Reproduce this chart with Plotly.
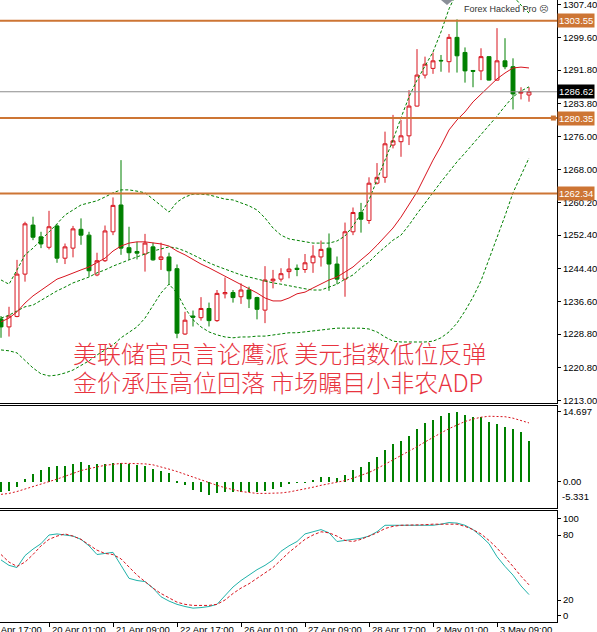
import plotly.graph_objects as go
from plotly.subplots import make_subplots

# ---------------------------------------------------------------------------
# H4 bars, oldest first
# ---------------------------------------------------------------------------
bar_no = list(range(67))

bar_open = [1232.4, 1230.5, 1233.0, 1243.1, 1254.8, 1252.0, 1249.5, 1254.6, 1246.9, 1249.3,
            1253.8, 1252.4, 1242.9, 1246.3, 1253.2, 1259.6, 1249.4, 1248.5, 1247.9, 1249.6,
            1246.6, 1247.2, 1244.4, 1228.8, 1233.1, 1232.7, 1234.9, 1232.0, 1238.4, 1238.7,
            1237.7, 1239.3, 1237.5, 1234.5, 1241.5, 1241.9, 1243.7, 1244.5, 1244.2, 1245.8,
            1247.2, 1249.3, 1245.5, 1241.9, 1253.2, 1257.8, 1255.9, 1264.8, 1266.2, 1273.9,
            1274.7, 1276.1, 1283.2, 1290.6, 1292.2, 1294.1, 1293.8, 1299.6, 1296.0, 1291.7,
            1291.6, 1295.0, 1289.4, 1294.0, 1292.6, 1286.3, 1285.85]
bar_high = [1233.1, 1235.3, 1246.5, 1255.6, 1256.8, 1253.2, 1258.2, 1255.0, 1250.4, 1254.6,
            1256.4, 1253.2, 1248.2, 1254.7, 1261.4, 1270.3, 1254.4, 1250.8, 1252.7, 1250.6,
            1250.6, 1248.2, 1245.4, 1234.1, 1234.4, 1237.6, 1236.3, 1239.3, 1242.3, 1239.3,
            1240.9, 1240.1, 1237.7, 1245.0, 1244.1, 1244.5, 1246.9, 1245.4, 1247.9, 1250.0,
            1251.1, 1252.8, 1247.3, 1255.4, 1259.0, 1260.1, 1266.2, 1269.6, 1277.1, 1281.1,
            1279.9, 1287.0, 1296.8, 1295.0, 1296.0, 1295.4, 1300.4, 1303.9, 1297.2, 1291.8,
            1297.0, 1295.1, 1301.8, 1299.4, 1294.6, 1287.7, 1287.7]
bar_low = [1227.9, 1228.2, 1232.8, 1241.3, 1251.2, 1249.3, 1249.0, 1245.8, 1245.5, 1247.1,
           1250.1, 1242.5, 1242.6, 1246.0, 1252.4, 1247.7, 1246.5, 1246.6, 1243.7, 1246.3,
           1244.1, 1240.5, 1227.8, 1228.6, 1230.6, 1232.0, 1230.6, 1231.7, 1237.3, 1236.3,
           1236.0, 1235.0, 1232.3, 1231.4, 1239.7, 1241.3, 1242.1, 1242.6, 1243.4, 1243.4,
           1244.9, 1239.1, 1240.7, 1237.7, 1252.4, 1253.0, 1255.1, 1264.5, 1264.9, 1273.1,
           1271.1, 1273.9, 1283.1, 1289.8, 1290.9, 1291.4, 1291.2, 1291.2, 1288.8, 1287.7,
           1289.4, 1289.3, 1289.3, 1292.0, 1282.4, 1284.8, 1284.25]
bar_close = [1230.5, 1233.1, 1243.1, 1255.1, 1251.9, 1250.3, 1254.4, 1246.9, 1249.6, 1253.9,
             1252.4, 1243.9, 1246.3, 1253.4, 1259.5, 1249.3, 1248.2, 1248.1, 1250.5, 1246.5,
             1247.2, 1243.9, 1229.0, 1232.1, 1232.8, 1234.9, 1232.0, 1238.5, 1238.7, 1237.5,
             1239.3, 1237.2, 1234.7, 1241.7, 1241.9, 1243.2, 1244.3, 1244.2, 1245.8, 1247.4,
             1249.0, 1245.5, 1241.9, 1253.2, 1257.8, 1256.2, 1264.8, 1266.2, 1274.2, 1274.9,
             1276.1, 1283.2, 1290.6, 1293.2, 1294.0, 1294.0, 1299.6, 1295.2, 1291.6, 1291.5,
             1295.0, 1289.4, 1294.0, 1292.6, 1286.1, 1286.5, 1286.62]

# red moving average
ma_red = [1231.7, 1232.6, 1234.1, 1236.2, 1237.9, 1239.3, 1240.7, 1241.9, 1242.6, 1243.4,
          1244.1, 1244.8, 1245.8, 1246.9, 1248.6, 1249.8, 1250.5, 1250.8, 1250.8, 1250.5,
          1250.3, 1249.8, 1248.6, 1247.7, 1246.5, 1245.5, 1244.6, 1243.6, 1242.6, 1241.7,
          1240.7, 1239.8, 1238.6, 1237.4, 1236.7, 1236.7, 1237.4, 1238.4, 1238.8, 1239.8,
          1240.7, 1241.7, 1242.4, 1243.6, 1244.8, 1246.5, 1248.1, 1250.0, 1252.0, 1254.1,
          1256.7, 1259.6, 1262.7, 1266.5, 1270.3, 1273.7, 1277.5, 1279.9, 1281.8, 1284.2,
          1286.1, 1288.0, 1289.7, 1291.1, 1292.3, 1292.5, 1292.3]

# Bollinger bands (green dotted)
bb_upper = [1241.7, 1240.7, 1244.1, 1247.7, 1249.3, 1251.2, 1253.2, 1255.1, 1257.2, 1258.4,
            1259.6, 1260.1, 1260.6, 1261.5, 1262.5, 1263.2, 1263.2, 1262.9, 1262.5, 1261.0,
            1259.4, 1257.9, 1260.3, 1261.5, 1262.2, 1262.2, 1262.0, 1261.5, 1261.0, 1260.8,
            1260.1, 1259.4, 1258.4, 1256.5, 1254.1, 1252.4, 1251.5, 1251.2, 1250.8, 1250.5,
            1250.5, 1250.5, 1251.0, 1252.2, 1254.6, 1257.5, 1260.8, 1265.6, 1270.3, 1275.1,
            1280.4, 1285.4, 1289.4, 1292.8, 1296.1, 1300.9, 1306.4, 1310.4, 1311.9, 1312.8,
            1313.3, 1313.3, 1312.8, 1311.4, 1309.5, 1307.3, 1305.4]
bb_mid = [1232.6, 1233.3, 1234.3, 1235.3, 1235.7, 1236.9, 1237.9, 1239.1, 1240.0, 1241.0,
          1241.7, 1242.4, 1243.4, 1244.1, 1245.0, 1245.8, 1246.5, 1247.2, 1247.9, 1248.6,
          1249.1, 1249.6, 1249.3, 1248.6, 1247.7, 1246.7, 1245.8, 1245.0, 1244.3, 1243.6,
          1242.9, 1242.4, 1241.9, 1241.5, 1241.0, 1240.7, 1240.3, 1240.0, 1239.6, 1239.3,
          1239.3, 1240.0, 1240.7, 1241.9, 1242.9, 1244.6, 1246.0, 1247.9, 1249.6, 1251.2,
          1252.4, 1254.8, 1257.5, 1260.1, 1262.5, 1265.1, 1267.5, 1269.9, 1272.0, 1274.2,
          1276.3, 1278.7, 1280.8, 1283.2, 1285.4, 1286.8, 1287.8]
bb_lower = [1225.0, 1224.8, 1224.3, 1222.6, 1220.7, 1219.3, 1218.8, 1219.0, 1219.5, 1220.2,
            1221.2, 1222.4, 1223.8, 1225.0, 1226.2, 1227.9, 1229.1, 1230.5, 1232.6, 1235.7,
            1238.6, 1240.7, 1238.6, 1235.0, 1232.2, 1230.5, 1229.3, 1228.6, 1228.1, 1227.9,
            1228.1, 1228.1, 1228.3, 1228.3, 1228.6, 1228.8, 1229.1, 1229.1, 1229.3, 1229.5,
            1229.8, 1230.0, 1230.2, 1230.2, 1230.2, 1230.2, 1230.0, 1229.3, 1228.1, 1227.1,
            1226.9, 1226.9, 1226.9, 1226.9, 1227.1, 1227.9, 1229.3, 1231.4, 1234.3, 1237.6,
            1241.5, 1246.5, 1251.7, 1257.0, 1262.5, 1266.8, 1270.8]

# MACD panel
macd_main = [-2.2, -1.9, -1.0, 0.55, 1.6, 2.5, 3.1, 3.3, 3.3, 3.7,
             4.15, 3.5, 3.7, 3.7, 4.0, 3.9, 3.7, 3.5, 3.3, 2.8,
             2.3, 1.8, 0.05, -0.7, -1.65, -2.1, -2.75, -2.35, -2.1, -2.1,
             -2.2, -2.2, -2.1, -1.9, -1.5, -1.0, -0.5, -0.15, -0.1, 0.5,
             1.1, 1.1, 0.8, 1.4, 2.5, 3.2, 4.2, 5.3, 6.8, 8.0,
             8.7, 9.7, 11.1, 12.3, 13.1, 13.8, 14.5, 14.697, 14.0, 13.6,
             13.6, 12.7, 12.2, 11.6, 11.1, 10.4, 8.7]
macd_signal = [-2.6, -2.4, -2.0, -1.5, -1.0, -0.4, 0.1, 0.6, 1.2, 1.8,
               2.4, 2.8, 3.2, 3.5, 3.7, 3.9, 3.9, 3.9, 3.8, 3.6,
               3.2, 2.7, 2.2, 1.6, 1.0, 0.4, -0.1, -0.7, -1.2, -1.6,
               -2.0, -2.2, -2.4, -2.4, -2.4, -2.3, -2.1, -1.8, -1.5, -1.1,
               -0.7, -0.4, 0.0, 0.3, 0.8, 1.4, 2.0, 2.8, 3.7, 4.6,
               5.5, 6.4, 7.4, 8.4, 9.4, 10.3, 11.2, 12.0, 12.7, 13.2,
               13.6, 13.8, 13.8, 13.7, 13.4, 12.9, 12.4]
macd_tick_pos = [14.697, 0.0]
macd_tick_text = ["14.697", "0.00"]
macd_min_label = "-5.331"

# Stochastic panel
stoch_k = [57, 52, 50, 61, 67, 72, 80, 81, 80, 79,
           76, 70, 62, 63, 64, 52, 40, 38, 37, 31,
           23, 19, 16, 14, 12.5, 13, 14, 16, 24, 32,
           38, 43, 48, 52, 57, 65, 70, 74, 81, 83,
           85, 82, 74, 75, 76, 77, 79, 83, 89, 89,
           89, 89, 89, 89, 89, 90, 91.5, 91, 89, 85,
           79, 72, 60, 51, 43, 33, 25]
stoch_d = [62, 55, 51, 55, 62, 70, 76, 79, 81, 79,
           76, 71, 66, 63, 62, 58, 50, 43, 37, 31,
           26, 22, 18, 16, 15, 15, 15, 16, 20, 26,
           31, 35, 40, 45, 50, 57, 64, 70, 76, 80,
           83, 82, 79, 75, 74, 76, 79, 82, 86, 88,
           89, 89, 89, 89.5, 90, 90, 90.5, 90, 88, 85,
           81, 75, 68, 60, 51, 42, 34]
stoch_levels = [80, 20]
# MT4 pins the 100 / 0 labels just inside the panel edges
stoch_tick_pos = [95, 80, 20, 6]
stoch_tick_text = ["100", "80", "20", "0"]

level_lines = [1303.55, 1280.35, 1262.34]
bid_price = 1286.62

price_ticks = [1307.40, 1299.60, 1291.80, 1283.80, 1276.00, 1268.00, 1260.20,
               1252.40, 1244.40, 1236.60, 1228.80, 1220.80, 1213.00]

time_tick_bars = [-2, 6, 14, 22, 30, 38, 46, 54, 62]
time_tick_text = ["18 Apr 17:00", "20 Apr 01:00", "21 Apr 09:00", "22 Apr 17:00",
                  "26 Apr 01:00", "27 Apr 09:00", "28 Apr 17:00", "2 May 01:00",
                  "3 May 09:00"]

headline_1 = "美联储官员言论鹰派 美元指数低位反弹"
headline_2 = "金价承压高位回落 市场瞩目小非农ADP"

RED = "#D8141E"
GREEN = "#008000"
ORANGE = "#CD7534"
TEAL = "#20B2AA"
AXIS_FONT = dict(family="Liberation Sans, Arial, sans-serif", size=9.5, color="black")
X_RANGE = [-0.125, 69.5]

fig = make_subplots(rows=3, cols=1, shared_xaxes=True, vertical_spacing=0.0)

# --- main price panel -------------------------------------------------------
for band in (bb_upper, bb_mid, bb_lower):
    fig.add_trace(go.Scatter(x=bar_no, y=band, mode="lines",
                             line=dict(color=GREEN, width=1, dash="3px,2px"),
                             hoverinfo="skip"), row=1, col=1)
fig.add_trace(go.Scatter(x=bar_no, y=ma_red, mode="lines",
                         line=dict(color=RED, width=1), hoverinfo="skip"), row=1, col=1)
fig.add_trace(go.Candlestick(
    x=bar_no, open=bar_open, high=bar_high, low=bar_low, close=bar_close,
    increasing=dict(line=dict(color=RED, width=1), fillcolor="white"),
    decreasing=dict(line=dict(color=GREEN, width=1), fillcolor=GREEN),
    whiskerwidth=0, hoverinfo="skip"), row=1, col=1)

for lv in level_lines:
    fig.add_hline(y=lv, line_color=ORANGE, line_width=2, row=1, col=1)
    fig.add_annotation(xref="paper", x=1, xanchor="left", yref="y", y=lv, yanchor="middle",
                       text=f"{lv:.2f}", showarrow=False, bgcolor=ORANGE, borderpad=1,
                       font=dict(family=AXIS_FONT["family"], size=9.5, color="white"))
fig.add_hline(y=bid_price, line_color="#8C8C8C", line_width=1, row=1, col=1)
fig.add_annotation(xref="paper", x=1, xanchor="left", yref="y", y=bid_price, yanchor="middle",
                   text=f"{bid_price:.2f}", showarrow=False, bgcolor="black", borderpad=1,
                   font=dict(family=AXIS_FONT["family"], size=9.5, color="white"))
# little marker in front of the 1280.35 tag
fig.add_shape(type="rect", xref="paper", x0=0.989, x1=0.998, yref="y",
              y0=level_lines[1] - 0.6, y1=level_lines[1] + 0.6,
              fillcolor=ORANGE, line_width=0)

# gray arrow at the top edge
fig.add_shape(type="path", xref="paper", yref="paper",
              path="M 0.7917 1 L 0.8133 1 L 0.8025 0.992 Z",
              fillcolor="#8A8F98", line_width=0)
fig.add_annotation(xref="paper", x=0.9874, xanchor="right", yref="paper", y=0.986,
                   yanchor="middle", text="Forex Hacked Pro \u2639", showarrow=False,
                   font=dict(family="Liberation Sans, DejaVu Sans", size=9, color="#333333"))

for i, txt in enumerate((headline_1, headline_2)):
    fig.add_annotation(xref="paper", x=0.1275, xanchor="left", yref="paper",
                       y=[0.4325, 0.3859][i], yanchor="middle", text=txt, showarrow=False,
                       font=dict(family="Noto Sans CJK SC", size=24, color="#E8343F",
                                 weight=300))

# --- MACD panel -------------------------------------------------------------
fig.add_trace(go.Bar(x=bar_no, y=macd_main, width=0.18, marker_color=GREEN,
                     marker_line_width=0, hoverinfo="skip"), row=2, col=1)
fig.add_trace(go.Scatter(x=bar_no, y=macd_signal, mode="lines",
                         line=dict(color=RED, width=1, dash="2px,2px"),
                         hoverinfo="skip"), row=2, col=1)
# minimum of the MACD scale, pinned just above the bottom border
fig.add_annotation(xref="paper", x=1, xanchor="left", xshift=3, yref="paper", y=0.1905,
                   yanchor="bottom", text=macd_min_label, showarrow=False, font=AXIS_FONT)

# --- Stochastic panel -------------------------------------------------------
for lv in stoch_levels:
    fig.add_hline(y=lv, line_color="#B4B4B4", line_width=1, line_dash="3px,3px", row=3, col=1)
fig.add_trace(go.Scatter(x=bar_no, y=stoch_k, mode="lines",
                         line=dict(color=TEAL, width=1), hoverinfo="skip"), row=3, col=1)
fig.add_trace(go.Scatter(x=bar_no, y=stoch_d, mode="lines",
                         line=dict(color=RED, width=1, dash="3px,2px"),
                         hoverinfo="skip"), row=3, col=1)

# time labels sit to the right of their tick, MT4 style (paper x so the
# first, half-hidden one is still drawn)
for b, t in zip(time_tick_bars, time_tick_text):
    px = (b - X_RANGE[0]) / (X_RANGE[1] - X_RANGE[0])
    fig.add_annotation(xref="paper", x=px, xanchor="left", xshift=1, yref="paper", y=0,
                       yanchor="top", yshift=0, text=t, showarrow=False, font=AXIS_FONT)

# --- axes / layout ----------------------------------------------------------
x_common = dict(range=X_RANGE, showgrid=False, zeroline=False, showline=True,
                linecolor="black", linewidth=1, showticklabels=False)
fig.update_xaxes(**x_common)
fig.update_xaxes(mirror=True, row=2, col=1)
fig.update_xaxes(mirror=True, ticks="outside", ticklen=4, tickcolor="black",
                 tickvals=time_tick_bars[1:], row=3, col=1)

y_common = dict(side="right", showgrid=False, zeroline=False, showline=True,
                linecolor="black", linewidth=1, ticks="outside", ticklen=3,
                tickcolor="black", tickfont=AXIS_FONT, ticklabeloverflow="allow",
                automargin=False)
fig.update_yaxes(**y_common)
fig.update_yaxes(domain=[0.3521, 1.0], range=[1212.34, 1308.52],
                 tickvals=price_ticks, ticktext=[f"{v:.2f}" for v in price_ticks],
                 row=1, col=1)
fig.update_yaxes(domain=[0.1833, 0.3473], range=[-5.459, 15.957],
                 tickvals=macd_tick_pos, ticktext=macd_tick_text, row=2, col=1)
fig.update_yaxes(domain=[0.0, 0.1785], range=[-0.3, 102.2],
                 tickvals=stoch_tick_pos, ticktext=stoch_tick_text, row=3, col=1)

fig.update_layout(
    width=597, height=632,
    margin=dict(l=0, r=40, t=0, b=10),
    paper_bgcolor="white", plot_bgcolor="white",
    showlegend=False,
    xaxis_rangeslider_visible=False,
    bargap=0,
)

# the page's default body margin would shift the whole chart by 8px
fig.write_html("out.html", config={"displayModeBar": False},
               post_script="document.body.style.margin='0';"
                           "document.body.style.overflow='hidden';")
